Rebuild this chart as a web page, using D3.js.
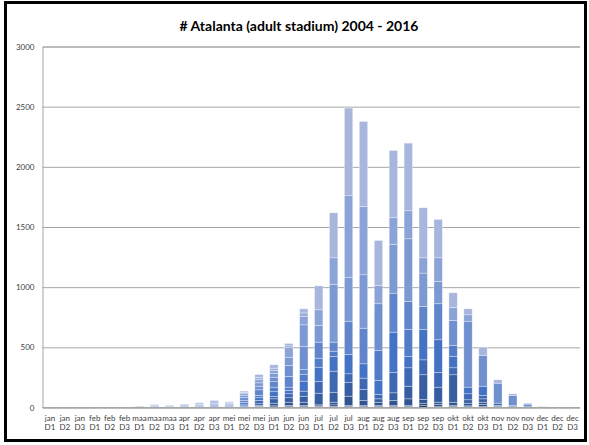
<!DOCTYPE html>
<html><head><meta charset="utf-8">
<script src="https://cdn.jsdelivr.net/npm/d3@7"></script>
<style>body{margin:0;background:#fff} text{font-family:Lato,"Open Sans",sans-serif}</style>
</head><body>
<svg id="c" width="589" height="445"></svg>
<script>
const categories = ["jan D1","jan D2","jan D3","feb D1","feb D2","feb D3","maa D1","maa D2","maa D3","apr D1","apr D2","apr D3","mei D1","mei D2","mei D3","jun D1","jun D2","jun D3","jul D1","jul D2","jul D3","aug D1","aug D2","aug D3","sep D1","sep D2","sep D3","okt D1","okt D2","okt D3","nov D1","nov D2","nov D3","dec D1","dec D2","dec D3"];
const years = ["2004","2005","2006","2007","2008","2009","2010","2011","2012","2013","2014","2015","2016"];
const y2004 = [0,0,0,0,0,0,0,0,0,0,0,0,0,2,4,5,7,7,6,10,8,8,8,8,8,16,10,8,6,10,0,0,0,0,0,0];
const y2005 = [0,0,0,0,0,0,0,0,0,0,0,3,0,0,6,9,10,10,7,12,9,9,9,9,9,20,15,11,8,15,0,0,0,0,0,0];
const y2006 = [0,0,0,0,0,0,0,0,0,3,0,0,4,5,8,22,27,27,9,22,77,41,27,41,55,30,19,25,22,19,8,0,0,0,0,0];
const y2007 = [0,0,0,0,0,0,0,3,0,0,4,6,0,0,13,36,37,50,97,83,116,92,28,64,105,206,125,228,28,28,9,8,0,0,0,0];
const y2008 = [0,0,0,0,0,0,3,0,0,0,0,0,6,6,27,19,33,42,97,175,70,94,36,171,153,124,122,58,50,28,19,9,6,0,0,0];
const y2009 = [0,0,0,0,0,0,0,0,4,6,6,8,8,9,23,40,27,83,119,122,160,119,116,333,96,252,272,96,55,77,0,0,0,0,0,0];
const y2010 = [0,0,0,0,0,0,0,5,0,0,0,8,0,20,19,38,28,58,75,44,0,0,250,0,222,0,0,89,0,0,0,0,0,0,0,0];
const y2011 = [0,0,0,0,0,0,0,0,5,0,8,0,8,15,47,45,90,39,133,75,277,296,0,324,233,192,299,0,0,0,0,0,0,0,0,0];
const y2012 = [0,0,0,0,0,0,0,5,0,6,0,10,0,25,30,38,90,190,0,0,0,0,388,0,0,0,0,208,548,255,166,83,22,6,0,0];
const y2013 = [0,0,0,0,0,0,4,0,0,0,6,0,8,20,28,30,69,181,138,479,366,444,0,405,521,277,185,0,0,0,0,0,0,0,0,0];
const y2014 = [0,0,0,0,4,0,0,6,4,6,0,10,0,17,30,25,78,69,131,222,677,568,152,222,233,127,197,108,53,0,0,0,0,0,0,0];
const y2015 = [0,0,0,0,0,2,0,0,0,0,6,0,6,7,15,20,16,30,0,0,0,0,0,0,0,0,0,0,0,0,0,0,0,0,0,0];
const y2016 = [0,0,0,0,0,0,4,6,6,7,10,13,8,10,24,28,20,34,199,374,728,706,374,559,562,416,319,122,50,69,28,14,8,4,2,0];
const seriesValues = [y2004,y2005,y2006,y2007,y2008,y2009,y2010,y2011,y2012,y2013,y2014,y2015,y2016];
const yTicks = [0,500,1000,1500,2000,2500,3000];
const title = "# Atalanta (adult stadium) 2004 - 2016";

const svg = d3.select("#c");
const L = 42.5, R = 580, T = 46.5, B = 407.5;

svg.append("rect").attr("x",0).attr("y",0).attr("width",589).attr("height",445).attr("fill","#fff");

const x = d3.scaleBand().domain(d3.range(categories.length)).range([L, R]).paddingInner(0.44).paddingOuter(0.22);
const y = d3.scaleLinear().domain([0, 3000]).range([B, T]);
const color = d3.scaleLinear().domain([0, 5, 12]).range(["#25406f", "#4472c4", "#a8b6de"]);

// gridlines + y labels
const yAxis = d3.axisLeft(y).tickValues(yTicks).tickSize(-(R - L)).tickPadding(8).tickFormat(d => d);
const gy = svg.append("g").attr("transform", `translate(${L},0)`).call(yAxis);
gy.select(".domain").attr("stroke", "#a6a6a6");
gy.selectAll(".tick line").attr("stroke", "#a6a6a6").attr("stroke-width", 1);
gy.selectAll(".tick text").attr("font-size", 8).attr("fill", "#404040").attr("font-family", "Lato");

// stacked bars
const rows = categories.map((c, i) => {
  const o = {};
  years.forEach((yr, k) => o[yr] = seriesValues[k][i]);
  return o;
});
const stacked = d3.stack().keys(years)(rows);
svg.append("g").selectAll("g").data(stacked).join("g")
  .attr("fill", (d, k) => color(k))
  .selectAll("rect").data(d => d.map((p, i) => ({p, i})).filter(e => e.p[1] - e.p[0] > 0)).join("rect")
  .attr("x", e => x(e.i))
  .attr("width", x.bandwidth())
  .attr("y", e => y(e.p[1]))
  .attr("height", e => y(e.p[0]) - y(e.p[1]))
  .attr("stroke", "#ffffff").attr("stroke-opacity", 0.55).attr("stroke-width", 0.6);

// baseline
svg.append("line").attr("x1", L).attr("x2", R).attr("y1", y(0)).attr("y2", y(0)).attr("stroke", "#a6a6a6");

// x labels
const gx = svg.append("g");
categories.forEach((c, i) => {
  const [mo, dec] = c.split(" ");
  const cx = x(i) + x.bandwidth() / 2;
  const t = gx.append("text").attr("text-anchor", "middle").attr("font-size", 8).attr("fill", "#404040");
  t.append("tspan").attr("x", cx).attr("y", 421).text(mo);
  t.append("tspan").attr("x", cx).attr("y", 430).text(dec);
});

// title
svg.append("text").attr("x", 299).attr("y", 31).attr("text-anchor", "middle")
  .attr("font-size", 14).attr("font-weight", "bold").attr("fill", "#000").text(title);

// frame
svg.append("rect").attr("x", 5.5).attr("y", 2.5).attr("width", 580).attr("height", 438)
  .attr("fill", "none").attr("stroke", "#000").attr("stroke-width", 3);
</script>
</body></html>
